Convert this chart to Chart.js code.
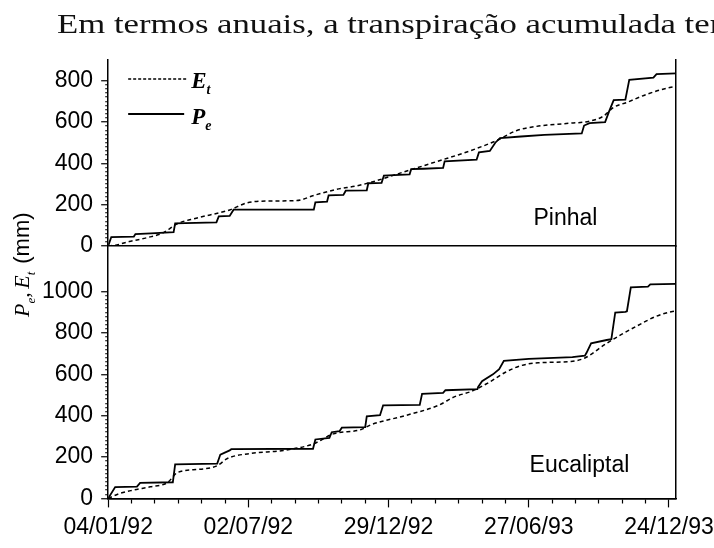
<!DOCTYPE html>
<html lang="pt">
<head>
<meta charset="utf-8">
<title>Pinhal / Eucaliptal</title>
<script src="https://cdn.jsdelivr.net/npm/chart.js@4.4.1/dist/chart.umd.min.js"></script>
<style>
  html, body { margin: 0; padding: 0; background: #fff; }
  #pagina { position: relative; width: 714px; height: 548px; overflow: hidden; background: #fff; }
  #grafico { position: absolute; left: 0; top: 0; }
  #texto {
    position: absolute; left: 57px; top: 10px;
    font-family: "Liberation Serif", "Times New Roman", serif;
    font-size: 28px; line-height: 28px; white-space: nowrap;
    transform: scaleX(1.24); transform-origin: 0 0; color: #111;
  }
</style>
</head>
<body>
<div id="pagina">
  <canvas id="grafico" width="714" height="548"></canvas>
  <div id="texto">Em termos anuais, a transpiração acumulada tem</div>
</div>
<script>
// dias desde 04/01/92
const rotulosX = ['04/01/92', '02/07/92', '29/12/92', '27/06/93', '24/12/93'];

// Pinhal
const pinhalPeDias = [0, 4, 33, 35, 55, 84, 86, 139, 142, 156, 161, 264, 266, 281, 283, 302, 305, 332, 334, 351, 354, 387, 389, 405, 430, 432, 473, 476, 490, 497, 503, 530, 560, 608, 611, 618, 638, 643, 649, 664, 669, 700, 704, 729];
const pinhalPe = [0, 44, 46, 58, 62, 68, 110, 115, 144, 146, 176, 176, 212, 215, 245, 248, 268, 270, 304, 306, 341, 347, 372, 374, 378, 410, 418, 453, 460, 500, 522, 530, 538, 545, 583, 595, 600, 650, 706, 708, 804, 815, 832, 835];
const pinhalEtDias = [0, 11, 27, 49, 71, 88, 113, 156, 178, 203, 242, 264, 293, 319, 336, 379, 422, 464, 499, 524, 550, 592, 618, 636, 649, 666, 692, 721, 729];
const pinhalEt = [0, 6, 22, 40, 65, 107, 135, 175, 209, 218, 220, 245, 274, 291, 307, 358, 409, 460, 511, 558, 579, 594, 604, 629, 671, 695, 735, 767, 772];

// Eucaliptal
const eucalPeDias = [0, 9, 37, 41, 83, 86, 140, 144, 156, 158, 263, 266, 284, 287, 297, 300, 330, 332, 349, 353, 400, 403, 430, 433, 474, 475, 480, 494, 502, 508, 540, 596, 612, 614, 620, 640, 646, 651, 664, 666, 671, 693, 696, 729];
const eucalPe = [0, 55, 57, 75, 78, 165, 168, 212, 232, 238, 240, 285, 292, 320, 325, 342, 345, 397, 402, 450, 452, 506, 510, 523, 528, 539, 567, 600, 625, 665, 675, 683, 690, 703, 750, 766, 770, 899, 902, 905, 1021, 1024, 1035, 1037];
const eucalEtDias = [0, 15, 32, 54, 76, 89, 118, 140, 153, 182, 225, 263, 289, 324, 338, 381, 424, 445, 466, 488, 510, 530, 552, 594, 612, 638, 659, 680, 702, 723, 729];
const eucalEt = [0, 24, 40, 56, 76, 125, 141, 158, 193, 217, 232, 263, 312, 332, 357, 400, 450, 492, 517, 559, 610, 642, 656, 662, 679, 745, 793, 836, 878, 903, 906];

function pontos(dias, valores) {
    return dias.map((d, i) => ({ x: d, y: valores[i] }));
}

const serif = '"Liberation Serif", "Times New Roman", serif';
const sans = '"Liberation Sans", Arial, sans-serif';

Chart.defaults.font.family = sans;
Chart.defaults.font.size = 23;
Chart.defaults.color = '#000';

// letra em itálico com índice
function simbolo(ctx, letra, indice, x, y, tam, peso) {
    ctx.font = (peso || '') + ' italic ' + tam + 'px ' + serif;
    ctx.fillText(letra, x, y);
    const w = ctx.measureText(letra).width;
    ctx.font = (peso || '') + ' italic ' + Math.round(tam * 0.6) + 'px ' + serif;
    ctx.fillText(indice, x + w, y + tam * 0.28);
    return w + ctx.measureText(indice).width;
}

const anotacoes = {
    id: 'anotacoes',
    afterDraw(chart) {
        const ctx = chart.ctx;
        const area = chart.chartArea;
        const x = chart.scales.x;
        const y1 = chart.scales.y1;
        const y2 = chart.scales.y2;

        ctx.save();
        ctx.fillStyle = '#000';
        ctx.strokeStyle = '#000';

        // nomes dos painéis
        ctx.font = '23px ' + sans;
        ctx.textAlign = 'center';
        ctx.textBaseline = 'middle';
        ctx.fillText('Pinhal', x.getPixelForValue(587), y1.getPixelForValue(135));
        ctx.fillText('Eucaliptal', x.getPixelForValue(605), y2.getPixelForValue(160));

        // legenda
        ctx.textAlign = 'left';
        ctx.textBaseline = 'alphabetic';
        ctx.lineWidth = 1.4;
        ctx.setLineDash([3, 2]);
        ctx.beginPath();
        ctx.moveTo(area.left + 20, area.top + 19);
        ctx.lineTo(area.left + 79, area.top + 19);
        ctx.stroke();
        ctx.setLineDash([]);
        ctx.lineWidth = 1.8;
        ctx.beginPath();
        ctx.moveTo(area.left + 20, area.top + 54);
        ctx.lineTo(area.left + 76, area.top + 54);
        ctx.stroke();
        simbolo(ctx, 'E', 't', area.left + 83, area.top + 28, 23, 'bold');
        simbolo(ctx, 'P', 'e', area.left + 83, area.top + 64, 23, 'bold');

        // título do eixo y
        ctx.translate(area.left - 79, area.top + 257);
        ctx.rotate(-Math.PI / 2);
        let cx = 0;
        cx += simbolo(ctx, 'P', 'e', cx, 0, 22);
        ctx.font = '22px ' + serif;
        ctx.fillText(',', cx, 0);
        cx += 9;
        cx += simbolo(ctx, 'E', 't', cx, 0, 22);
        cx += 8;
        ctx.font = '22px ' + sans;
        ctx.fillText('(mm)', cx, 0);

        ctx.restore();
    }
};

const eixoEsquerdo = (maximo, ultimo, peso) => ({
    type: 'linear',
    position: 'left',
    stack: 'painel',
    stackWeight: maximo,
    weight: peso,
    min: 0,
    max: maximo,
    ticks: {
        stepSize: 20,
        autoSkip: false,
        padding: 8,
        callback: v => (v % 200 === 0 && v <= ultimo) ? String(v) : ''
    },
    grid: {
        color: c => (c.tick && c.tick.value === 0) ? '#000' : 'rgba(0,0,0,0)',
        lineWidth: 1.5,
        tickColor: c => (c.tick && c.tick.value <= ultimo) ? '#000' : 'rgba(0,0,0,0)',
        tickWidth: 1.2,
        tickLength: 7,
        tickBorderDash: c => (c.tick && c.tick.value % 200 === 0) ? [] : [0, 4, 3, 20]
    },
    border: { color: '#000', width: 1.5 }
});

const eixoDireito = (maximo, peso) => ({
    type: 'linear',
    position: 'right',
    stack: 'painel',
    stackWeight: maximo,
    weight: peso,
    min: 0,
    max: maximo,
    ticks: { display: false },
    grid: { display: false, drawTicks: false },
    border: { display: true, color: '#000', width: 1.5 }
});

new Chart(document.getElementById('grafico'), {
    type: 'line',
    data: {
        datasets: [{
            label: 'Pe Pinhal',
            data: pontos(pinhalPeDias, pinhalPe),
            yAxisID: 'y1',
            borderColor: '#000',
            borderWidth: 1.8,
            pointRadius: 0,
            tension: 0
        }, {
            label: 'Et Pinhal',
            data: pontos(pinhalEtDias, pinhalEt),
            yAxisID: 'y1',
            borderColor: '#000',
            borderWidth: 1.5,
            borderDash: [4, 3],
            pointRadius: 0,
            cubicInterpolationMode: 'monotone'
        }, {
            label: 'Pe Eucaliptal',
            data: pontos(eucalPeDias, eucalPe),
            yAxisID: 'y2',
            borderColor: '#000',
            borderWidth: 1.8,
            pointRadius: 0,
            tension: 0
        }, {
            label: 'Et Eucaliptal',
            data: pontos(eucalEtDias, eucalEt),
            yAxisID: 'y2',
            borderColor: '#000',
            borderWidth: 1.5,
            borderDash: [4, 3],
            pointRadius: 0,
            cubicInterpolationMode: 'monotone'
        }]
    },
    options: {
        responsive: false,
        animation: false,
        layout: { padding: { top: 60, right: 38, bottom: 1, left: 34 } },
        plugins: {
            legend: { display: false },
            tooltip: { enabled: false }
        },
        scales: {
            x: {
                type: 'linear',
                min: 0,
                max: 729,
                afterFit: s => { s.paddingRight = 0; },
                ticks: {
                    stepSize: 30,
                    autoSkip: false,
                    maxRotation: 0,
                    minRotation: 0,
                    includeBounds: false,
                    padding: 6,
                    callback: v => (v % 180 === 0) ? rotulosX[v / 180] : ''
                },
                grid: {
                    drawOnChartArea: false,
                    tickColor: '#000',
                    tickWidth: 1.2,
                    tickLength: 9,
                    tickBorderDash: c => (c.tick && c.tick.value % 180 === 0) ? [] : [4, 20]
                },
                border: { color: '#000', width: 1.5 }
            },
            y1: eixoEsquerdo(900, 800, 2),
            y2: eixoEsquerdo(1220, 1000, 1),
            y1d: eixoDireito(900, 1),
            y2d: eixoDireito(1220, 2)
        }
    },
    plugins: [anotacoes]
});
</script>
</body>
</html>
